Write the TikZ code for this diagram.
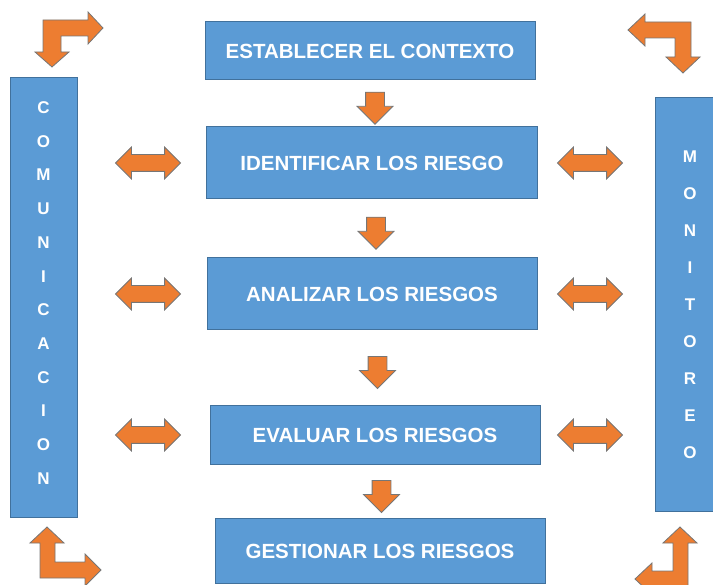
\documentclass[tikz,border=0pt]{standalone}
\usepackage{fontspec}
\setmainfont{Liberation Sans}
\usetikzlibrary{shapes.arrows,calc}

\definecolor{boxblue}{HTML}{5B9BD5}
\definecolor{boxline}{HTML}{41719C}
\definecolor{arroworange}{HTML}{ED7D31}
\definecolor{arrowline}{HTML}{767676}

\tikzset{
    stage/.style={draw=boxline, fill=boxblue, line width=1pt, text=white,
        font=\fontsize{20.5}{24}\selectfont\bfseries, inner sep=0pt},
    side/.style={draw=boxline, fill=boxblue, line width=1pt, text=white,
        align=center, inner sep=0pt, minimum width=67pt},
    downarrow/.style={single arrow, shape border rotate=270, fill=arroworange,
        draw=arrowline, line width=0.8pt, inner sep=9pt,
        single arrow head extend=8.5pt, minimum height=32pt},
    twoway/.style={double arrow, fill=arroworange, draw=arrowline,
        line width=0.8pt, inner sep=8pt, double arrow head extend=7.5pt,
        minimum height=65pt},
    bent/.style={fill=arroworange, draw=arrowline, line width=0.8pt}
}

\begin{document}
\begin{tikzpicture}[x=1pt, y=-1pt]
    \useasboundingbox (0,0) rectangle (713,585);
    \clip (0,0) rectangle (713,585);

    % The steps of the process
    \node[stage, minimum width=330pt, minimum height=58pt] (est) at (370,51) {ESTABLECER EL CONTEXTO};
    \node[stage, minimum width=331pt, minimum height=72pt] (ide) at (372,163) {IDENTIFICAR LOS RIESGO};
    \node[stage, minimum width=330pt, minimum height=72pt] (ana) at (372,294) {ANALIZAR LOS RIESGOS};
    \node[stage, minimum width=330pt, minimum height=59pt] (eva) at (375,435) {EVALUAR LOS RIESGOS};
    \node[stage, minimum width=330pt, minimum height=64pt] (ges) at (380,551) {GESTIONAR LOS RIESGOS};

    % Side bars
    \node[side, minimum height=440pt, text depth=10pt, font=\fontsize{17}{33.7}\selectfont\bfseries] (com) at (43.5,298)
        {C\\O\\M\\U\\N\\I\\C\\A\\C\\I\\O\\N};
    \node[side, minimum height=414pt, minimum width=70pt, font=\fontsize{17}{37}\selectfont\bfseries] (mon) at (690,305)
        {M\\O\\N\\I\\T\\O\\R\\E\\O};

    % Arrows down the process
    \foreach \a/\b [count=\i] in {est/ide, ide/ana, ana/eva, eva/ges}
        \node[downarrow, xshift=4pt] (down\i) at ($(\a.south)!0.5!(\b.north)$) {};

    % Arrows to the side bars
    \coordinate (lx) at (148,0);
    \coordinate (rx) at (590,0);
    \foreach \s in {ide, ana, eva} {
        \node[twoway] (left\s) at (lx |- \s) {};
        \node[twoway] (right\s) at (rx |- \s) {};
    }

    % Corner arrows
    \filldraw[bent] (43,20) -- (88,20) -- (88,12) -- (103,28) -- (88,44) -- (88,36)
        -- (61,36) -- (61,52) -- (69,52) -- (52,67) -- (35,52) -- (43,52) -- cycle;
    \filldraw[bent] (691,22) -- (691,57) -- (700,57) -- (683,73) -- (666,57) -- (675,57)
        -- (675,38) -- (645,38) -- (645,46) -- (628,30) -- (645,14) -- (645,22) -- cycle;
    \filldraw[bent] (40,578) -- (40,543) -- (30,543) -- (47,527) -- (64,543) -- (55,543)
        -- (55,562) -- (85,562) -- (85,554) -- (101,570) -- (85,586) -- (85,578) -- cycle;
    \filldraw[bent] (688,587) -- (688,543) -- (697,543) -- (680,527) -- (663,543) -- (673,543)
        -- (673,571) -- (652,571) -- (652,563) -- (635,579) -- (652,595) -- (652,587) -- cycle;
\end{tikzpicture}
\end{document}
